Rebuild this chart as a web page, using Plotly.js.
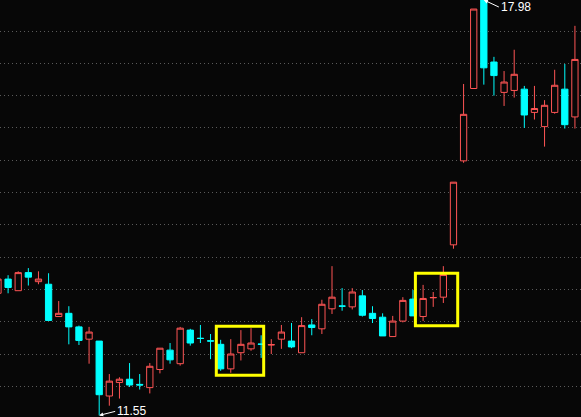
<!DOCTYPE html>
<html>
<head>
<meta charset="utf-8">
<script src="https://cdn.plot.ly/plotly-3.0.1.min.js"></script>
<style>html,body{margin:0;padding:0;background:#070707;}#chart{width:581px;height:417px;}</style>
</head>
<body>
<div id="chart"></div>
<script>
// Trading sessions (index), OHLC values
var sessions = [0,1,2,3,4,5,6,7,8,9,10,11,12,13,14,15,16,17,18,19,20,21,22,23,24,25,26,27,28,29,30,31,32,33,34,35,36,37,38,39,40,41,42,43,44,45,46,47,48,49,50,51,52,53,54,55,56,57];
var openP  = [13.44,13.66,13.48,13.76,13.62,13.58,13.08,13.13,12.92,12.73,12.70,11.85,12.06,12.11,12.03,11.98,12.26,12.56,12.35,12.87,12.745,12.705,12.65,12.27,12.52,12.58,12.655,12.64,12.73,12.70,12.52,12.95,12.89,13.20,13.245,13.23,13.40,13.13,13.07,12.77,13.01,13.35,13.08,13.37,13.38,14.19,15.49,16.61,17.98,17.02,16.55,16.58,16.60,16.24,16.02,16.24,16.60,16.17];
var highP  = [13.70,13.72,13.78,13.83,13.78,13.75,13.32,13.24,12.94,12.92,12.70,12.19,12.14,12.36,12.19,12.36,12.59,12.67,12.92,12.89,12.95,12.81,12.72,12.73,12.87,12.90,12.79,12.73,12.95,12.98,13.07,13.04,13.34,13.86,13.52,13.52,13.49,13.24,13.13,13.09,13.38,13.49,13.57,13.46,13.86,15.16,16.68,17.84,17.98,17.10,16.88,17.21,16.65,16.65,16.43,16.90,16.99,17.58];
var lowP   = [13.40,13.44,13.48,13.56,13.58,13.02,13.08,12.65,12.64,12.35,11.55,11.70,11.81,11.99,11.95,11.89,12.20,12.35,12.32,12.63,12.67,12.42,12.24,12.21,12.40,12.55,12.44,12.50,12.58,12.59,12.52,12.79,12.81,13.12,13.17,13.19,13.08,12.98,12.78,12.77,12.99,13.09,13.01,13.23,13.29,14.13,15.46,16.61,16.67,16.50,16.34,16.47,16.00,16.13,15.71,16.22,15.99,15.99];
var closeP = [13.66,13.53,13.76,13.69,13.66,13.02,13.13,12.92,12.71,12.84,11.87,12.08,12.11,12.02,12.02,12.31,12.59,12.41,12.90,12.67,12.74,12.70,12.27,12.50,12.65,12.67,12.65,12.645,12.84,12.61,12.94,12.91,13.27,13.38,13.24,13.46,13.10,13.05,12.78,13.01,13.33,13.09,13.36,13.375,13.73,15.16,16.21,17.84,16.93,16.81,16.71,16.83,16.20,16.30,16.35,16.66,16.05,17.06];
var gridPrices = [12.0,12.5,13.0,13.5,14.0,14.5,15.0,15.5,16.0,16.5,17.0,17.5];

var maxHigh = Math.max.apply(null, highP), minLow = Math.min.apply(null, lowP);
var iMax = highP.indexOf(maxHigh), iMin = lowP.indexOf(minLow);

var bg = '#070707';
var trace = {
  type: 'candlestick',
  x: sessions, open: openP, high: highP, low: lowP, close: closeP,
  increasing: {line: {color: '#ff5555', width: 1}, fillcolor: bg},
  decreasing: {line: {color: '#00ffff', width: 1}, fillcolor: '#00ffff'},
  whiskerwidth: 0,
  hoverinfo: 'skip'
};

var layout = {
  width: 581, height: 417,
  margin: {l: 0, r: 0, t: 0, b: 0, pad: 0},
  paper_bgcolor: bg, plot_bgcolor: bg,
  showlegend: false,
  boxgap: 0.38, boxgroupgap: 0,
  xaxis: {range: [0.2, 57.6], showgrid: false, zeroline: false, showticklabels: false, ticks: '', showline: false, rangeslider: {visible: false}, fixedrange: true},
  yaxis: {range: [11.525, 17.98], tickmode: 'array', tickvals: gridPrices, showticklabels: false, ticks: '',
          showgrid: true, gridcolor: '#5a5a5a', gridwidth: 1, griddash: '1px,3px', zeroline: false, showline: false, fixedrange: true},
  shapes: [
    {type: 'rect', xref: 'x', yref: 'y', x0: 21.57, x1: 26.25, y0: 12.17, y1: 12.929, line: {color: '#ffff00', width: 3}, fillcolor: 'rgba(0,0,0,0)'},
    {type: 'rect', xref: 'x', yref: 'y', x0: 41.24, x1: 45.42, y0: 12.938, y1: 13.749, line: {color: '#ffff00', width: 3}, fillcolor: 'rgba(0,0,0,0)'}
  ],
  annotations: [
    {x: sessions[iMax], y: maxHigh, xref: 'x', yref: 'y', text: maxHigh.toFixed(2), showarrow: true,
     arrowhead: 2, arrowsize: 0.8, arrowwidth: 1, arrowcolor: '#ffffff', ax: 15, ay: 7, xanchor: 'left', yanchor: 'middle',
     font: {family: 'Liberation Sans, Arial, sans-serif', size: 12, color: '#ffffff'}},
    {x: sessions[iMin], y: minLow, xref: 'x', yref: 'y', text: minLow.toFixed(2), showarrow: true,
     arrowhead: 2, arrowsize: 0.8, arrowwidth: 1, arrowcolor: '#ffffff', ax: 16, ay: -4, xanchor: 'left', yanchor: 'middle',
     font: {family: 'Liberation Sans, Arial, sans-serif', size: 12, color: '#ffffff'}}
  ]
};

Plotly.newPlot('chart', [trace], layout, {staticPlot: true, displayModeBar: false});
</script>
</body>
</html>
